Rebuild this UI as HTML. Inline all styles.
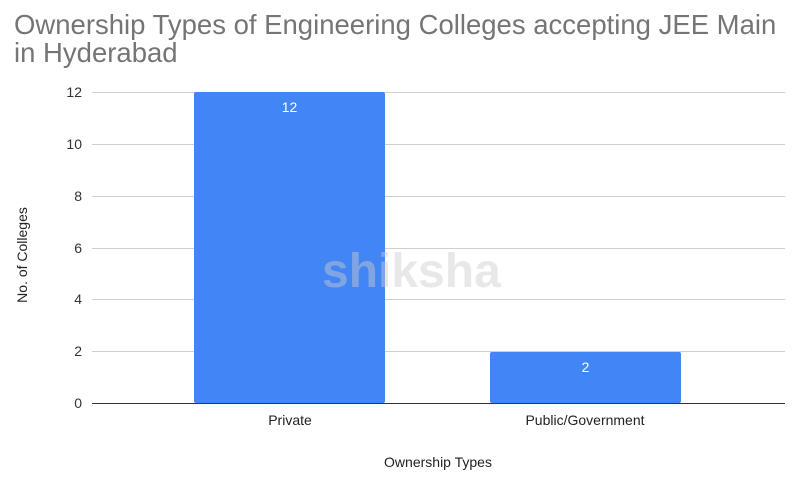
<!DOCTYPE html>
<html><head><style>
body{margin:0;background:#fff;width:811px;height:477px;overflow:hidden;font-family:"Liberation Sans",Arial,sans-serif}
</style></head><body>
<svg width="811" height="477" xmlns="http://www.w3.org/2000/svg" font-family="Liberation Sans, Arial, sans-serif">
<rect width="811" height="477" fill="#fff"/>
<text x="14" y="34" font-size="27.5" fill="#757575">Ownership Types of Engineering Colleges accepting JEE Main</text>
<text x="14" y="62" font-size="27.5" fill="#757575">in Hyderabad</text>
<g stroke="#d0d0d0" stroke-width="1">
<line x1="92" x2="785" y1="92.5" y2="92.5"/>
<line x1="92" x2="785" y1="144.5" y2="144.5"/>
<line x1="92" x2="785" y1="196.5" y2="196.5"/>
<line x1="92" x2="785" y1="248.5" y2="248.5"/>
<line x1="92" x2="785" y1="299.5" y2="299.5"/>
<line x1="92" x2="785" y1="351.5" y2="351.5"/>
</g>
<g font-size="14" fill="#333" text-anchor="end">
<text x="82" y="97">12</text><text x="82" y="149">10</text><text x="82" y="201">8</text>
<text x="82" y="253">6</text><text x="82" y="304">4</text><text x="82" y="356">2</text><text x="82" y="408">0</text>
</g>
<rect x="194" y="92" width="191" height="311" rx="2" fill="#4285f4"/>
<rect x="490" y="352" width="191" height="51" rx="2" fill="#4285f4"/>
<line x1="92" x2="785" y1="403.5" y2="403.5" stroke="#333" stroke-width="1"/>
<text x="289.5" y="112" font-size="14" fill="#fff" text-anchor="middle">12</text>
<text x="585.5" y="372" font-size="14" fill="#fff" text-anchor="middle">2</text>
<text x="290" y="425" font-size="14" fill="#222" text-anchor="middle">Private</text>
<text x="585" y="425" font-size="14" fill="#222" text-anchor="middle">Public/Government</text>
<text x="438" y="467" font-size="14" fill="#222" text-anchor="middle">Ownership Types</text>
<text transform="translate(27,255) rotate(-90)" font-size="14" fill="#222" text-anchor="middle">No. of Colleges</text>
<text x="322" y="287" font-size="48" font-weight="bold" fill="#cccccc" fill-opacity="0.45">shiksha</text>
</svg>
</body></html>
